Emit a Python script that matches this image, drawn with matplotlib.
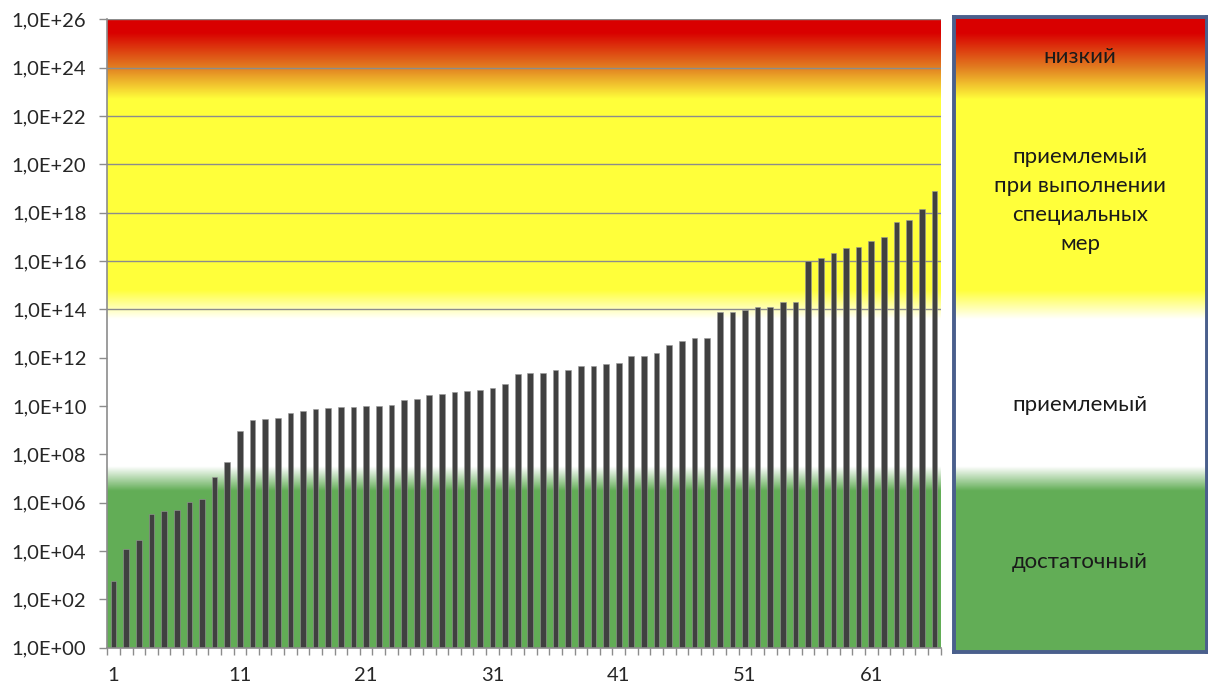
import numpy as np
from matplotlib import pyplot as plt
from matplotlib.ticker import FixedLocator, FuncFormatter

# bar values, categories 1..66
categories = np.arange(1, 67)
values = [5.7e2, 1.2e4, 2.9e4, 3.4e5, 4.7e5, 5.1e5, 1.1e6, 1.4e6, 1.2e7, 4.7e7,
          9.5e8, 2.6e9, 2.9e9, 3.2e9, 5.3e9, 6.0e9, 7.5e9, 8.3e9, 9.1e9, 9.1e9,
          1.0e10, 1.0e10, 1.15e10, 1.8e10, 2.0e10, 2.75e10, 3.0e10, 3.8e10, 4.3e10, 4.8e10,
          5.4e10, 8.1e10, 2.2e11, 2.4e11, 2.4e11, 3.0e11, 3.0e11, 4.6e11, 4.6e11, 5.6e11,
          6.2e11, 1.2e12, 1.2e12, 1.5e12, 3.5e12, 4.9e12, 6.5e12, 6.5e12, 7.5e13, 7.5e13,
          9.8e13, 1.3e14, 1.3e14, 2.1e14, 2.1e14, 9.8e15, 1.3e16, 2.1e16, 3.4e16, 3.7e16,
          6.5e16, 9.8e16, 4.0e17, 4.8e17, 1.4e18, 7.9e18]
xtick_labels = [1, 11, 21, 31, 41, 51, 61]
ytick_exps = list(range(0, 27, 2))

zone_labels = ["низкий", "приемлемый\nпри выполнении\nспециальных\nмер", "приемлемый", "достаточный"]
zone_label_exps = [24.45, 18.5, 10.05, 3.55]

# background gradient stops (decade, colour)
red = (0.851, 0.0, 0.0)
orange = (0.886, 0.50, 0.13)
yellow = (1.0, 1.0, 0.23)
white = (1.0, 1.0, 1.0)
green = (0.388, 0.682, 0.341)
stop_pos = [-1, 6.5, 7.5, 13.6, 14.8, 22.7, 24.0, 25.45, 27]
stop_col = [green, green, white, white, yellow, yellow, orange, red, red]


def gradient(lo, hi, n=800):
    d = np.linspace(hi, lo, n)
    img = np.zeros((n, 1, 3))
    for c in range(3):
        img[:, 0, c] = np.interp(d, stop_pos, [s[c] for s in stop_col])
    return img


plt.rcParams['font.family'] = ['Lato', 'DejaVu Sans']
fig = plt.figure(figsize=(12.08, 6.92), dpi=100)
ax = fig.add_axes([107.3 / 1208, 1 - 647.7 / 692, (940.7 - 107.3) / 1208, (647.7 - 19.3) / 692])

ax.imshow(gradient(0, 26), extent=[0, 1, 0, 1], transform=ax.transAxes,
          aspect='auto', zorder=0, interpolation='bilinear')
ax.set_yscale('log')
ax.set_ylim(1, 1e26)
ax.set_xlim(0.5, 66.5)

for e in ytick_exps:
    if e >= 14:
        ax.axhline(10.0 ** e, color='#8c8c8c', lw=1.0, zorder=1)

ax.bar(categories, values, width=0.45, color='#404040', edgecolor='#9a9a9a',
       linewidth=0.4, zorder=2)

ax.yaxis.set_major_locator(FixedLocator([10.0 ** e for e in ytick_exps]))
ax.yaxis.set_minor_locator(FixedLocator([]))
ax.yaxis.set_major_formatter(FuncFormatter(lambda v, p: "1,0E+%02d" % round(np.log10(v))))
ax.tick_params(axis='y', which='major', length=6, width=1, color='#8c8c8c',
               labelsize=14.5, labelcolor='#262626', pad=9)

ax.set_xticks(xtick_labels)
ax.set_xticklabels([str(v) for v in xtick_labels])
ax.set_xticks(np.arange(0.5, 67, 1), minor=True)
ax.tick_params(axis='x', which='major', length=0, labelsize=14.5, labelcolor='#262626', pad=14)
ax.tick_params(axis='x', which='minor', length=5, width=1, color='#8c8c8c')

for s in ['top', 'right']:
    ax.spines[s].set_visible(False)
for s in ['left', 'bottom']:
    ax.spines[s].set_color('#8c8c8c')
    ax.spines[s].set_linewidth(1.2)
    ax.spines[s].set_zorder(3)

# legend panel
lo, hi = -0.17, 26.1
pax = fig.add_axes([953.5 / 1208, 1 - 651.5 / 692, (1206.5 - 953.5) / 1208, (651.5 - 17) / 692])
pax.imshow(gradient(lo, hi), extent=[0, 1, lo, hi], aspect='auto', interpolation='bilinear')
pax.set_xlim(0, 1)
pax.set_ylim(lo, hi)
pax.set_xticks([])
pax.set_yticks([])
for s in pax.spines.values():
    s.set_color('#4a5f8c')
    s.set_linewidth(2.8)
for txt, e in zip(zone_labels, zone_label_exps):
    pax.text(0.5, e, txt, ha='center', va='center', fontsize=16, color='#1a1a1a',
             linespacing=1.56)

plt.savefig('out.png', dpi=100)
